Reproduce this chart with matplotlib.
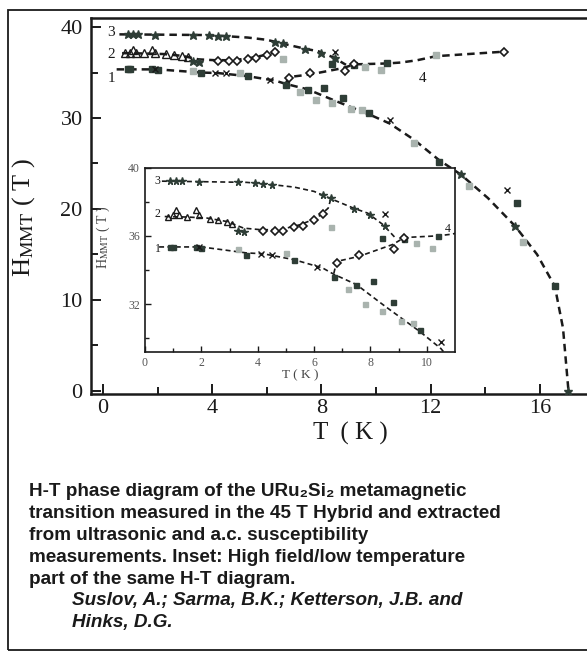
import matplotlib
matplotlib.use("Agg")
import matplotlib.pyplot as plt
from matplotlib.patches import Rectangle

plt.rcParams['font.family'] = ['Liberation Serif', 'DejaVu Serif']
plt.rcParams['mathtext.fontset'] = 'stix'

# dashed guide lines (T in K, H in T)
line3_T = [0.6, 2.0, 3.6, 4.4, 5.3, 6.0, 6.7, 7.4, 7.9, 8.45, 8.9]
line3_H = [39.2, 39.17, 39.13, 39.02, 38.85, 38.6, 38.1, 37.62, 37.33, 36.65, 35.85]
line2_T = [0.7, 1.5, 2.2, 2.9, 3.5, 4.1, 4.8, 5.5, 6.1, 6.5, 6.6]
line2_H = [37.13, 37.1, 37.04, 36.84, 36.45, 36.36, 36.36, 36.65, 37.04, 37.62, 38.2]
line1_T = [0.5, 2.0, 3.6, 4.2, 5.3, 6.3, 6.7, 7.5, 8.5, 9.75, 10.5, 11.4, 12.3,
           13.1, 14.1, 15.1, 15.9, 16.55, 16.85, 17.05]
line1_H = [35.35, 35.35, 35.0, 34.95, 34.6, 34.12, 33.75, 33.15, 31.9, 30.4, 29.4,
           27.6, 25.4, 23.8, 21.2, 18.1, 15.0, 11.5, 6.9, 0.0]
line4_T = [6.7, 6.8, 7.6, 8.8, 9.2, 10.4, 10.9, 11.5, 12.2, 14.7]
line4_H = [33.8, 34.5, 34.8, 35.5, 35.9, 36.0, 36.1, 36.35, 36.8, 37.3]

# measured points
star_T = [0.9, 1.1, 1.3, 1.9, 3.3, 3.9, 4.2, 4.5, 6.3, 6.6, 7.4, 8.0, 8.5,
          3.3, 3.5, 13.1, 15.1, 17.05]
star_H = [39.2, 39.2, 39.2, 39.17, 39.15, 39.1, 39.05, 39.0, 38.4, 38.2, 37.6, 37.2, 36.6,
          36.3, 36.2, 23.8, 18.1, 0.0]
open_T = [4.2, 4.6, 4.9, 5.3, 5.6, 6.0, 6.3, 6.8, 7.6, 8.85, 9.2, 14.7]
open_H = [36.3, 36.3, 36.3, 36.5, 36.6, 36.9, 37.3, 34.4, 34.9, 35.2, 35.9, 37.3]
tri_T = [0.8, 1.0, 1.2, 1.5, 1.9, 2.3, 2.6, 2.9, 3.1, 1.8, 1.1]
tri_H = [37.1, 37.2, 37.2, 37.1, 37.2, 37.0, 36.9, 36.8, 36.7, 37.5, 37.5]
sq_T = [0.9, 1.0, 1.8, 2.0, 3.6, 5.3, 6.7, 7.5, 8.1, 8.8, 9.75, 12.3, 15.15, 16.56,
        8.4, 10.4, 9.2]
sq_H = [35.35, 35.35, 35.35, 35.3, 34.9, 34.6, 33.6, 33.1, 33.35, 32.15, 30.5, 25.2,
        20.6, 11.5, 35.9, 36.0, 35.8]
grey_T = [3.3, 5.0, 7.2, 7.8, 8.4, 9.1, 9.5, 13.4, 15.4, 10.2, 9.6, 6.6, 12.2, 11.4]
grey_H = [35.2, 35.0, 32.9, 32.0, 31.6, 31.0, 30.9, 22.5, 16.4, 35.3, 35.6, 36.5, 36.9, 27.3]
x_T = [4.1, 4.5, 6.1, 8.5, 1.9, 10.5, 14.8]
x_H = [34.95, 34.9, 34.2, 37.25, 35.35, 29.8, 22.1]

dark = '#2e3d36'
grey = '#a9b3ae'
ink = '#1a1a1a'

fig = plt.figure(figsize=(5.87, 6.52), dpi=100)
W, H = 587.0, 652.0

# outer frame
fig.patches.append(Rectangle((8 / W, 2 / H), 620 / W, 640 / H, transform=fig.transFigure,
                             fill=False, edgecolor=ink, linewidth=1.3))

ax = fig.add_axes([91 / W, 1 - 394 / H, (610 - 91) / W, (394 - 18) / H])
ins = fig.add_axes([145 / W, 1 - 352 / H, (455 - 145) / W, (352 - 167.5) / H])


def draw(a, lw, ms):
    for tt, hh in [(line3_T, line3_H), (line2_T, line2_H), (line1_T, line1_H), (line4_T, line4_H)]:
        a.plot(tt, hh, ls=(0, (3, 2)), color=ink, lw=lw, zorder=2)
    a.plot(grey_T, grey_H, 's', ms=ms * 0.8, color=grey, mec=grey, zorder=3)
    a.plot(tri_T, tri_H, '^', ms=ms, mfc='none', mec=ink, mew=1.0, zorder=4)
    a.plot(sq_T, sq_H, 's', ms=ms * 0.8, color=dark, zorder=4)
    a.plot(open_T, open_H, 'D', ms=ms * 0.8, mfc='white', mec=ink, mew=1.2, zorder=5)
    a.plot(star_T, star_H, '*', ms=ms * 1.2, color=dark, zorder=5)
    a.plot(x_T, x_H, 'x', ms=ms * 0.9, color=ink, mew=1.0, zorder=5)


draw(ax, 1.8, 5.2)
ax.set_xlim((91 - 103) / 27.3, (610 - 103) / 27.3)
ax.set_ylim(-0.35, 41.0)
ax.set_xticks([0, 4, 8, 12, 16])
ax.set_xticks([2, 6, 10, 14], minor=True)
ax.set_yticks([0, 10, 20, 30, 40])
ax.set_yticks([5, 15, 25, 35], minor=True)
ax.tick_params(which='both', direction='in', labelsize=16, colors=ink, width=1.4)
ax.tick_params(which='major', length=7)
ax.tick_params(which='minor', length=5)
ax.tick_params(axis='y', pad=6)
for s in ax.spines.values():
    s.set_linewidth(1.8)
    s.set_color(ink)
ax.set_xlabel('T  ( K )', fontsize=18, color=ink, labelpad=3)
ax.set_ylabel(r'H$_{\rm MMT}$ ( T )', fontsize=19, color=ink)
ax.yaxis.set_label_coords(-0.105, 0.47)
ax.text(0.45, 39.4, '3', fontsize=11, ha='right', va='center', color=ink)
ax.text(0.45, 37.0, '2', fontsize=11, ha='right', va='center', color=ink)
ax.text(0.45, 34.4, '1', fontsize=11, ha='right', va='center', color=ink)
ax.text(11.7, 34.3, '4', fontsize=11, ha='center', va='center', color=ink)

draw(ins, 1.2, 4.5)
ins.set_xlim(0, 11)
ins.set_ylim(29.2, 40)
ins.set_xticks([0, 2, 4, 6, 8, 10])
ins.set_xticks([1, 3, 5, 7, 9], minor=True)
ins.set_yticks([32, 36, 40])
ins.set_yticks([30, 34, 38], minor=True)
ins.tick_params(which='both', direction='in', labelsize=8.5, colors=ink, labelcolor='#555555', width=1.0)
ins.tick_params(which='major', length=4)
ins.tick_params(which='minor', length=3)
for s in ins.spines.values():
    s.set_linewidth(1.2)
    s.set_color(ink)
ins.set_xlabel('T ( K )', fontsize=9.5, color='#444444', labelpad=0)
ins.set_ylabel(r'H$_{\rm MMT}$ ( T )', fontsize=10, color='#444444')
ins.yaxis.set_label_coords(-0.105, 0.62)
ins.text(0.55, 39.2, '3', fontsize=8.5, ha='right', va='center', color=ink)
ins.text(0.55, 37.3, '2', fontsize=8.5, ha='right', va='center', color=ink)
ins.text(0.55, 35.2, '1', fontsize=8.5, ha='right', va='center', color=ink)
ins.text(10.85, 36.4, '4', fontsize=8.5, ha='right', va='center', color=ink)

caption = ["H-T phase diagram of the URu\u2082Si\u2082 metamagnetic",
           "transition measured in the 45 T Hybrid and extracted",
           "from ultrasonic and a.c. susceptibility",
           "measurements. Inset: High field/low temperature",
           "part of the same H-T diagram."]
authors = ["Suslov, A.; Sarma, B.K.; Ketterson, J.B. and",
           "Hinks, D.G."]
sans = ['Liberation Sans', 'DejaVu Sans']
y0 = 492
for i, line in enumerate(caption):
    fig.text(29 / W, 1 - (y0 + 21.8 * i) / H, line, family=sans, fontsize=13.6,
             fontweight='bold', color=ink, va='center')
for i, line in enumerate(authors):
    fig.text(72 / W, 1 - (y0 + 21.8 * (5 + i)) / H, line, family=sans, fontsize=13.6,
             fontweight='bold', style='italic', color=ink, va='center')

fig.savefig('out.png', dpi=100)
